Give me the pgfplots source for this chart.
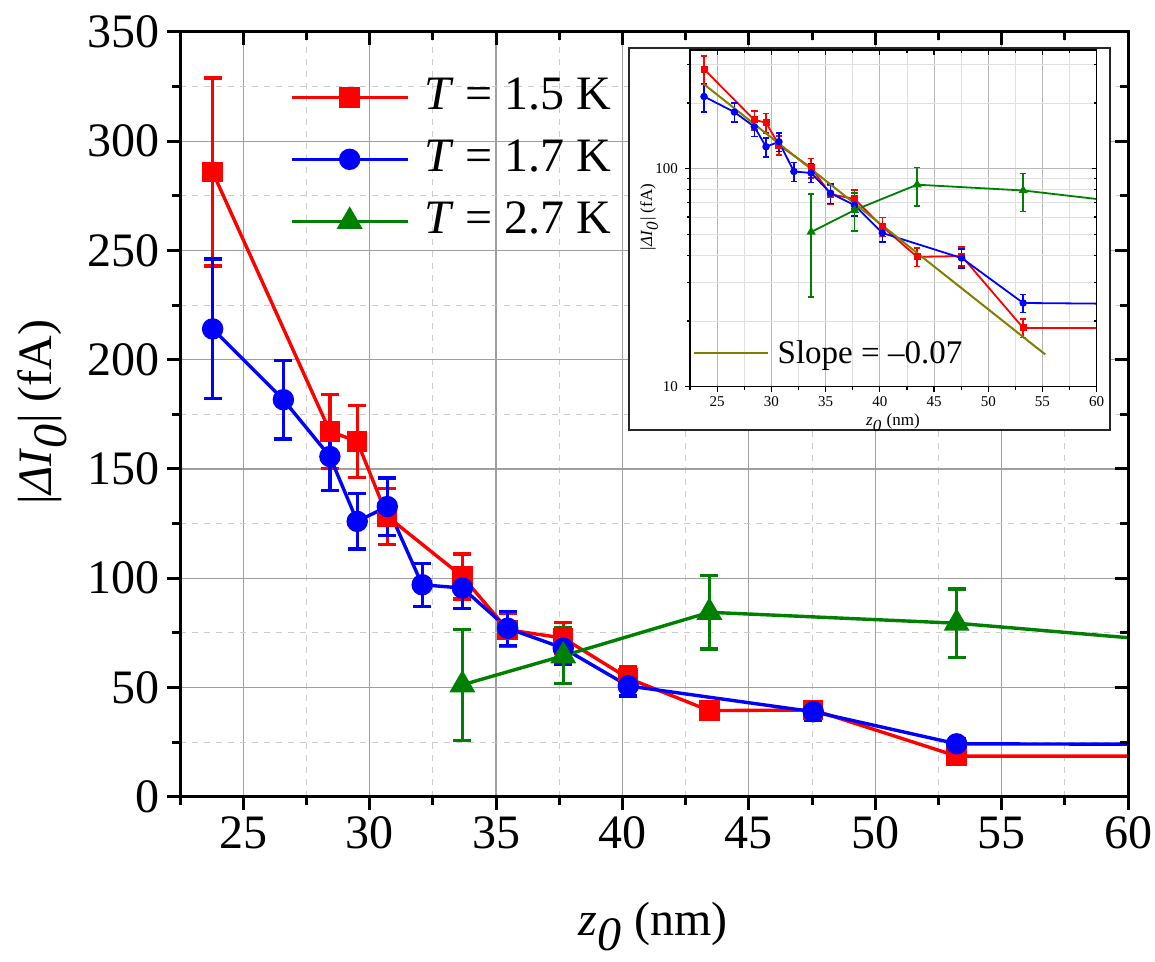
\documentclass[border=0pt]{standalone}
\usepackage{fontspec}
\setmainfont{Liberation Serif}
\usepackage{pgfplots}
\usepackage{pgfplotstable}
\pgfplotsset{compat=1.18}
\definecolor{cred}{RGB}{255,0,0}
\definecolor{cblue}{RGB}{0,0,255}
\definecolor{cgreen}{RGB}{0,128,0}
\definecolor{colive}{RGB}{128,128,0}

\pgfplotstableread{
x y e
23.79 285.9 43
28.43 167.2 17
29.51 162.6 16.5
30.70 128.3 12.8
33.67 100.8 10.3
35.46 76.4 7.7
37.66 72.6 7.2
40.23 54.2 5.4
43.44 39.4 3.8
47.55 39.7 4.0
53.22 18.6 1.8
66.00 18.6 0
}\redT
\pgfplotstableread{
x y e
23.79 214.1 32
26.59 181.7 18
28.43 155.7 15.6
29.51 126.0 12.6
30.70 132.8 13.1
32.08 97.0 9.8
33.67 95.5 9.3
35.46 77.1 7.8
37.66 68.0 7.3
40.23 50.7 4.6
47.55 38.9 3.8
53.22 24.2 2.3
66.00 23.9 0
}\blueT
\pgfplotstableread{
x y e
33.67 51.2 25.5
37.66 64.5 12.7
43.44 84.4 16.8
53.22 79.4 15.7
65.00 67.9 0
}\greenT

\begin{document}
\begin{tikzpicture}
\useasboundingbox (0,0) rectangle (577.5pt,481pt);
% main axis
\begin{axis}[
  at={(90pt,82.65pt)}, anchor=south west, scale only axis,
  width=474pt, height=382.35pt,
  xmin=22.5, xmax=60, ymin=0, ymax=350,
  xtick={25,30,...,60}, minor xtick={22.5,27.5,...,57.5},
  ytick={0,50,...,350}, minor ytick={25,75,...,325},
  grid=both,
  major grid style={gray!75, line width=0.6pt},
  minor grid style={gray!40, dashed, line width=0.5pt},
  axis line style={line width=1.5pt},
  tick align=outside, xtick pos=left, ytick pos=left,
  major tick length=6.5pt, minor tick length=4pt,
  every tick/.style={black, line width=1.5pt},
  /pgf/number format/assume math mode=true,
  tick label style={font=\fontsize{24}{28}\selectfont},
  xlabel={\textit{z}$_{\textit{0}}$ (nm)},
  ylabel={|\textit{ΔI}$_{\textit{0}}$| (fA)},
  label style={font=\fontsize{24}{28}\selectfont},
  xlabel style={at={(axis description cs:0.499,-0.170)}, anchor=center},
  ylabel style={at={(axis description cs:-0.1456,0.503)}, anchor=center},
  legend style={at={(0.116,0.8335)}, anchor=west, draw=none, fill=none,
    inner sep=0pt, outer sep=0pt,
    font=\fontsize{24}{28}\selectfont,
    nodes={inner sep=0pt, text height=17pt, text depth=5pt},
    row sep=9pt, column sep=7.5pt},
  legend cell align=left,
  legend image code/.code={\draw[mark repeat=2,mark phase=2,#1] plot coordinates {(0pt,0pt) (29pt,0pt) (58pt,0pt)};},
  error bars/error bar style={line width=1.6pt, solid},
  error bars/error mark options={rotate=90, line width=1.6pt, mark size=4.5pt},
]
\addplot[cred, line width=1.7pt, mark=square*, mark size=4.25pt, mark options={solid},
  error bars/.cd, y dir=both, y explicit]
  table[x=x, y=y, y error=e] {\redT};
\addlegendentry{\textit{T} = 1.5 K}
\addplot[cblue, line width=1.7pt, mark=*, mark size=4.5pt, mark options={solid},
  error bars/.cd, y dir=both, y explicit]
  table[x=x, y=y, y error=e] {\blueT};
\addlegendentry{\textit{T} = 1.7 K}
\addplot[cgreen, line width=1.7pt, mark=triangle*, mark size=5.8pt, mark options={solid},
  error bars/.cd, y dir=both, y explicit]
  table[x=x, y=y, y error=e] {\greenT};
\addlegendentry{\textit{T} = 2.7 K}
\end{axis}
% top/right inward ticks
\begin{axis}[
  at={(90pt,82.65pt)}, anchor=south west, scale only axis,
  width=474pt, height=382.35pt,
  xmin=22.5, xmax=60, ymin=0, ymax=350,
  xtick={25,30,...,60}, minor xtick={22.5,27.5,...,57.5},
  ytick={0,50,...,350}, minor ytick={25,75,...,325},
  xticklabels={}, yticklabels={},
  axis line style={line width=1.5pt},
  tick align=inside, xtick pos=right, ytick pos=right,
  major tick length=6.5pt, minor tick length=4pt,
  every tick/.style={black, line width=1.5pt},
]
\end{axis}
% inset frame
\filldraw[fill=white, draw=black!85, line width=1pt] (314.65pt,266pt) rectangle (555pt,456.85pt);
% inset axis
\begin{axis}[
  at={(345pt,287.65pt)}, anchor=south west, scale only axis,
  width=203.35pt, height=168.35pt,
  xmin=22.5, xmax=60, ymode=log, ymin=10, ymax=350,
  xtick={25,30,...,60}, minor xtick={22.5,27.5,...,57.5},
  ytick={10,100}, yticklabels={10,100},
  minor ytick={20,30,40,50,60,70,80,90,200,300},
  grid=both,
  major grid style={gray!55, line width=0.4pt},
  minor grid style={gray!25, line width=0.4pt},
  axis line style={line width=0.6pt},
  tick align=outside, xtick pos=left, ytick pos=left,
  major tick length=2.5pt, minor tick length=1.5pt,
  every tick/.style={black, line width=0.6pt},
  /pgf/number format/assume math mode=true,
  tick label style={font=\fontsize{7.5}{9}\selectfont},
  xticklabel style={yshift=1pt},
  xlabel={\textit{z}$_{\textit{0}}$ (nm)},
  ylabel={|\textit{ΔI}$_{\textit{0}}$| (fA)},
  label style={font=\fontsize{8.5}{10}\selectfont},
  xlabel style={at={(axis description cs:0.499,-0.108)}, anchor=center},
  ylabel style={at={(axis description cs:-0.1008,0.504)}, anchor=center},
  legend style={at={(0.0074,0.099)}, anchor=west, draw=none, fill=none,
    inner sep=0pt, outer sep=0pt,
    font=\fontsize{16.5}{19}\selectfont,
    nodes={inner sep=0pt}, column sep=4.35pt},
  legend image code/.code={\draw[#1] (0pt,0pt) -- (37pt,0pt);},
  error bars/error bar style={line width=0.8pt, solid},
  error bars/error mark options={rotate=90, line width=0.8pt, mark size=1.6pt},
]
\addplot[cred, line width=0.9pt, mark=square*, mark size=1.3pt, mark options={solid}, forget plot,
  error bars/.cd, y dir=both, y explicit]
  table[x=x, y=y, y error=e] {\redT};
\addplot[cblue, line width=0.9pt, mark=*, mark size=1.4pt, mark options={solid}, forget plot,
  error bars/.cd, y dir=both, y explicit]
  table[x=x, y=y, y error=e] {\blueT};
\addplot[cgreen, line width=0.9pt, mark=triangle*, mark size=1.8pt, mark options={solid}, forget plot,
  error bars/.cd, y dir=both, y explicit]
  table[x=x, y=y, y error=e] {\greenT};
\addplot[colive, line width=1pt, no marks] coordinates {(23.73,245) (55.25,14.06)};
\addlegendentry{Slope = –0.07}
\end{axis}
% inset top/right inward ticks
\begin{axis}[
  at={(345pt,287.65pt)}, anchor=south west, scale only axis,
  width=203.35pt, height=168.35pt,
  xmin=22.5, xmax=60, ymode=log, ymin=10, ymax=350,
  xtick={25,30,...,60}, minor xtick={22.5,27.5,...,57.5},
  ytick={10,100}, minor ytick={20,30,40,50,60,70,80,90,200,300},
  xticklabels={}, yticklabels={},
  axis line style={line width=0.6pt},
  tick align=inside, xtick pos=right, ytick pos=right,
  major tick length=2.5pt, minor tick length=1.5pt,
  every tick/.style={black, line width=0.6pt},
]
\end{axis}
\end{tikzpicture}
\end{document}
